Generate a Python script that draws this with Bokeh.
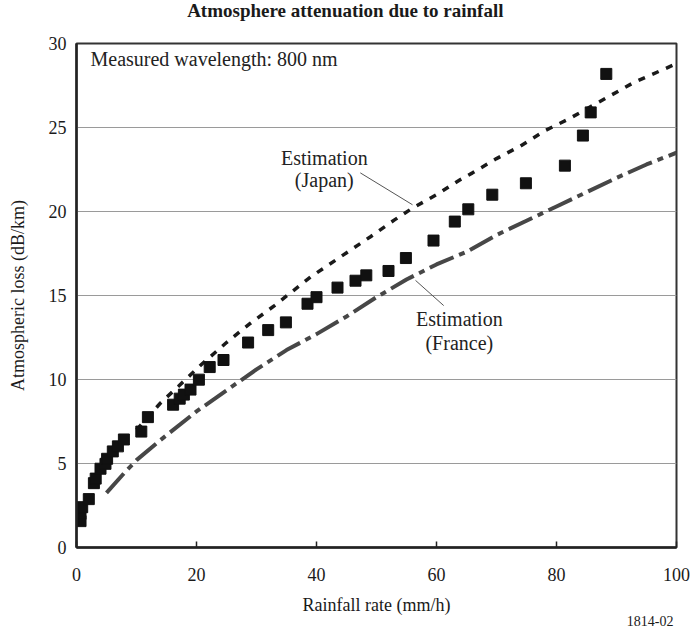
from bokeh.plotting import figure
from bokeh.layouts import column
from bokeh.models import Range1d, FixedTicker
from bokeh.embed import file_html
from bokeh.resources import INLINE
from bokeh.core.properties import value

# Measured attenuation at 800 nm
rain_meas = [0.67, 0.67, 0.95, 2.05, 2.9, 3.2, 4.0, 4.83, 5.1, 6.05, 6.9, 7.9, 10.8, 11.9,
             16.1, 17.2, 17.9, 19.0, 20.4, 22.2, 24.5, 28.6, 31.95, 34.9, 38.5, 40.0,
             43.5, 46.5, 48.3, 52.0, 54.9, 59.5, 63.05, 65.3, 69.3, 74.9, 81.4, 84.4,
             85.7, 88.3]
loss_meas = [1.57, 2.0, 2.4, 2.88, 3.83, 4.1, 4.69, 4.98, 5.28, 5.72, 6.02, 6.43, 6.9, 7.76,
             8.5, 8.86, 9.1, 9.4, 9.99, 10.74, 11.16, 12.2, 12.94, 13.4, 14.51, 14.9,
             15.47, 15.88, 16.2, 16.46, 17.23, 18.27, 19.4, 20.13, 21.0, 21.68, 22.73, 24.52,
             25.9, 28.19]

# Estimation (Japan)
rain_japan = [10, 14, 17, 21, 25, 29, 33, 39, 44, 49, 53, 56, 60, 64, 66, 70, 74, 78, 82,
              85, 89, 93, 100]
loss_japan = [7.0, 8.6, 9.6, 10.95, 12.2, 13.35, 14.4, 16.1, 17.3, 18.5, 19.5, 20.2, 21.0,
              21.9, 22.3, 23.15, 23.9, 24.8, 25.5, 26.1, 26.9, 27.7, 28.8]

# Estimation (France)
rain_france = [5, 8, 10, 14, 20, 25, 30, 35, 40, 45, 50, 55, 60, 65, 70, 75, 80, 85, 90, 95, 100]
loss_france = [3.25, 4.45, 5.2, 6.4, 8.1, 9.35, 10.6, 11.75, 12.7, 13.75, 14.9, 15.95, 16.85,
               17.6, 18.6, 19.45, 20.3, 21.15, 22.0, 22.8, 23.5]

x_ticks = [0, 20, 40, 60, 80, 100]
y_ticks = [0, 5, 10, 15, 20, 25, 30]

SERIF = "Liberation Serif"
INK = "#1a1a1a"
WIDTH = 690
BORDER_L, BORDER_R = 76, 14
HEAD_H, FOOT_H = 22, 40
MAIN_H = 630 - HEAD_H - FOOT_H


def text_strip(height):
    """A bare strip sharing the chart's horizontal scale, used for lines of text."""
    f = figure(width=WIDTH, height=height, output_backend="svg", toolbar_location=None,
               x_range=Range1d(0, 100), y_range=Range1d(0, height),
               x_axis_type=None, y_axis_type=None,
               min_border_left=BORDER_L, min_border_right=BORDER_R,
               min_border_top=0, min_border_bottom=0)
    f.grid.visible = False
    f.outline_line_color = None
    f.background_fill_color = "white"
    f.border_fill_color = "white"
    return f


# heading
head = text_strip(HEAD_H)
head.text(x=[44.8], y=[12], text=["Atmosphere attenuation due to rainfall"],
          text_font=value(SERIF), text_font_size="19px", text_font_style="bold",
          text_color=INK, text_align="center", text_baseline="middle")

# main chart
p = figure(width=WIDTH, height=MAIN_H, output_backend="svg", toolbar_location=None,
           x_range=Range1d(0, 100), y_range=Range1d(0, 30),
           min_border_left=BORDER_L, min_border_right=BORDER_R,
           min_border_top=21, min_border_bottom=43)
p.title.text = ""

p.background_fill_color = "white"
p.border_fill_color = "white"
p.outline_line_color = "#333333"
p.outline_line_width = 2

p.xgrid.visible = False
p.ygrid.grid_line_color = "#9a9a9a"
p.ygrid.grid_line_width = 1

p.xaxis.ticker = FixedTicker(ticks=x_ticks)
p.yaxis.ticker = FixedTicker(ticks=y_ticks)
for ax in (p.xaxis, p.yaxis):
    ax.axis_line_color = "#222222"
    ax.axis_line_width = 2.5
    ax.major_tick_line_color = "#222222"
    ax.major_tick_line_width = 1.5
    ax.minor_tick_line_color = None
    ax.major_label_text_font = SERIF
    ax.major_label_text_font_size = "18px"
    ax.major_label_text_color = INK
    ax.axis_label_text_font = SERIF
    ax.axis_label_text_font_size = "18px"
    ax.axis_label_text_font_style = "normal"
    ax.axis_label_text_color = INK

p.xaxis.major_tick_in = 6
p.xaxis.major_tick_out = 0
p.yaxis.major_tick_in = 0
p.yaxis.major_tick_out = 0
p.xaxis.major_label_standoff = 20
p.yaxis.major_label_standoff = 10
p.yaxis.axis_label = "Atmospheric loss (dB/km)"
p.yaxis.axis_label_standoff = 18

# curves
p.line(rain_france, loss_france, line_color="#474747", line_width=4, line_dash="26 6 6 6")
p.line(rain_japan, loss_japan, line_color=INK, line_width=3.5, line_dash="7 8")

# measured points
p.scatter(rain_meas, loss_meas, marker="square", size=11, fill_color="#111111",
          line_color="#111111")

# leader lines for the curve labels
p.segment(x0=[47.3, 56.5], y0=[22.3, 15.9], x1=[56.0, 61.2], y1=[20.4, 14.4],
          line_color="#555555", line_width=1)

text_kw = dict(text_font=value(SERIF), text_font_size="20px", text_color="#222222",
               text_baseline="middle")
p.text(x=[41.3, 41.3, 63.8, 63.8], y=[23.2, 21.86, 13.58, 12.2],
       text=["Estimation", "(Japan)", "Estimation", "(France)"],
       text_align="center", **text_kw)
p.text(x=[2.33], y=[29.07], text=["Measured wavelength: 800 nm"], text_align="left", **text_kw)

# x-axis title and figure number
foot = text_strip(FOOT_H)
foot.text(x=[50], y=[26], text=["Rainfall rate (mm/h)"], text_font=value(SERIF),
          text_font_size="18px", text_color=INK, text_align="center", text_baseline="middle")
foot.text(x=[99.5], y=[10], text=["1814-02"], text_font=value(SERIF), text_font_size="14px",
          text_color=INK, text_align="right", text_baseline="middle")

open("out.html", "w").write(file_html(column(head, p, foot, spacing=0), INLINE))
